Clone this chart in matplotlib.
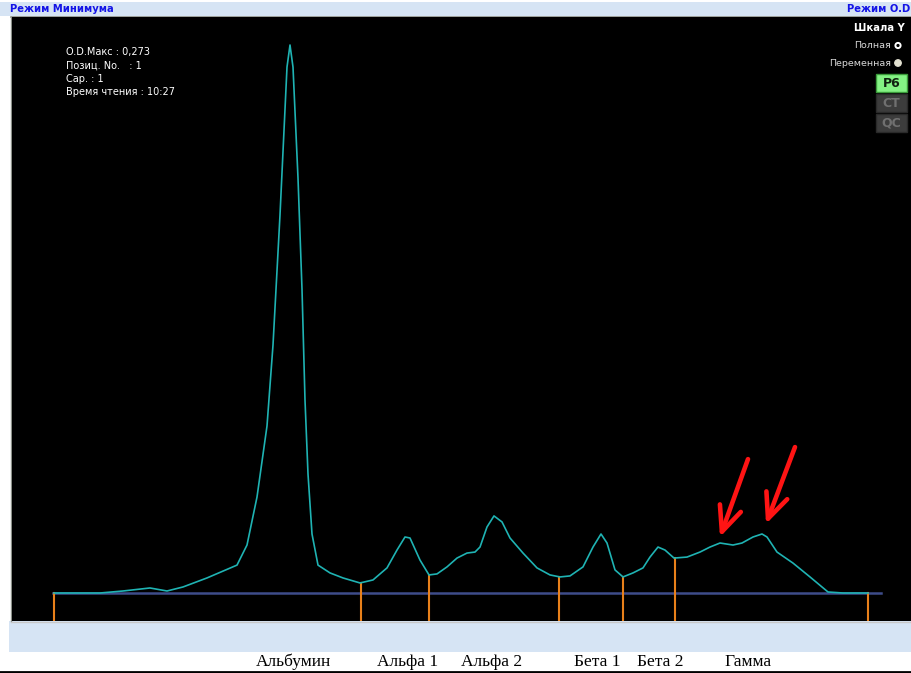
import numpy as np
import matplotlib
matplotlib.use('Agg')
import matplotlib.pyplot as plt
from matplotlib.patches import Rectangle, Circle

# densitogram scan: position along the strip and optical density
scan_pos = [54, 80, 100, 123, 150, 167, 183, 207, 237, 247, 257, 267, 273, 280, 287, 290,
            293, 298, 302, 305, 308, 312, 318, 330, 343, 360, 373, 387, 397, 405, 410, 420,
            429, 437, 447, 457, 467, 475, 480, 487, 494, 502, 510, 523, 537, 550, 560, 570,
            583, 593, 601, 607, 615, 623, 633, 643, 650, 658, 665, 674, 687, 700, 710, 720,
            733, 742, 753, 762, 767, 777, 793, 810, 828, 843, 868]
od_values = [0.0, 0.0, 0.0, 0.001, 0.0025, 0.001, 0.003, 0.0075, 0.0139, 0.0239, 0.0478,
             0.0832, 0.1235, 0.1883, 0.2620, 0.2730, 0.2620, 0.2067, 0.1514, 0.0961, 0.0593,
             0.0294, 0.0139, 0.0100, 0.0075, 0.0050, 0.0065, 0.0125, 0.0214, 0.0279, 0.0274,
             0.0164, 0.0090, 0.0095, 0.0130, 0.0174, 0.0199, 0.0204, 0.0229, 0.0329, 0.0384,
             0.0354, 0.0274, 0.0199, 0.0125, 0.0090, 0.0080, 0.0085, 0.0130, 0.0229, 0.0294,
             0.0249, 0.0115, 0.0080, 0.0100, 0.0125, 0.0179, 0.0229, 0.0214, 0.0174, 0.0179,
             0.0204, 0.0229, 0.0249, 0.0239, 0.0249, 0.0279, 0.0294, 0.0279, 0.0204, 0.0149,
             0.0080, 0.0005, 0.0, 0.0]

# fraction boundaries (scan position)
boundaries = [54, 361, 429, 559, 623, 675, 868]
fractions = ['Альбумин', 'Альфа 1', 'Альфа 2', 'Бета 1', 'Бета 2', 'Гамма']
fraction_label_pos = [293, 408, 492, 597, 660, 748]

# red arrows pointing at the two gamma humps (tip, tail)
arrow_tips = [(720, 0.0279), (766, 0.0344)]
arrow_tails = [(748, 0.0667), (795, 0.0727)]

info_lines = ['O.D.Макс : 0,273', 'Позиц. No.   : 1', 'Cap. : 1', 'Время чтения : 10:27']

W, H = 911, 673
fig = plt.figure(figsize=(W / 100, H / 100), dpi=100)
fig.patch.set_facecolor('white')

# background / window decoration in pixel coords
bg = fig.add_axes([0, 0, 1, 1])
bg.set_xlim(0, W)
bg.set_ylim(H, 0)
bg.axis('off')
bg.add_patch(Rectangle((0, 2), W, 14, facecolor='#D6E4F4', edgecolor='none'))
bg.add_patch(Rectangle((9, 621), W - 9, 31, facecolor='#D6E4F4', edgecolor='none'))
bg.plot([11, W], [16.5, 16.5], color='#8A8F88', lw=1.2)
bg.plot([11, 11], [16.5, 621], color='#8A8F88', lw=1.0)
bg.plot([11, W], [621.5, 621.5], color='#C8C8C8', lw=1.0)
bg.plot([0, W], [671.5, 671.5], color='black', lw=2)
bg.text(10, 9, 'Режим Минимума', color='#1414E6', fontsize=7.2, fontweight='bold',
        ha='left', va='center')
bg.text(910, 9, 'Режим O.D', color='#1414E6', fontsize=7.2, fontweight='bold',
        ha='right', va='center')

for lab, xp in zip(fractions, fraction_label_pos):
    bg.text(xp, 662, lab, family='Liberation Serif', fontsize=12.5, color='black',
            ha='center', va='center')

# main densitogram area
kpx = 0.273 / 548
ax = fig.add_axes([12 / W, (H - 621) / H, (W - 12) / W, 604 / H])
ax.set_facecolor('black')
ax.set_xlim(12, W)
ax.set_ylim(-28 * kpx, 576 * kpx)
for s in ax.spines.values():
    s.set_visible(False)
ax.set_xticks([])
ax.set_yticks([])

ax.plot([53, 881], [0, 0], color='#3E4C8A', lw=1.8, zorder=2)
ymin = ax.get_ylim()[0]
for b in boundaries:
    top = np.interp(b, scan_pos, od_values)
    ax.plot([b, b], [ymin, top], color='#E8801A', lw=1.5, zorder=3)
ax.plot(scan_pos, od_values, color='#1FB3B3', lw=1.2, zorder=4)

for tip, tail in zip(arrow_tips, arrow_tails):
    ax.annotate('', xy=tip, xytext=tail,
                arrowprops=dict(arrowstyle='->,head_length=1.8,head_width=0.8',
                                color='#FF1414', lw=3.3, shrinkA=0, shrinkB=0))

# overlay for texts drawn on top of the black area
ov = fig.add_axes([0, 0, 1, 1])
ov.set_xlim(0, W)
ov.set_ylim(H, 0)
ov.axis('off')
ov.patch.set_alpha(0)

for i, line in enumerate(info_lines):
    ov.text(66, 52 + i * 13.3, line, color='white', fontsize=7, ha='left', va='center')

# right side panel
ov.text(905, 28, 'Шкала Y', color='white', fontsize=7.2, fontweight='bold',
        ha='right', va='center')
ov.text(891, 45, 'Полная', color='#D8D8D8', fontsize=6.8, ha='right', va='center')
ov.add_patch(Circle((898, 45.5), 2.6, facecolor='black', edgecolor='white', lw=1.4))
ov.text(891, 63, 'Переменная', color='#D8D8D8', fontsize=6.8, ha='right', va='center')
ov.add_patch(Circle((898, 63), 3.2, facecolor='#E4E2D2', edgecolor='#E4E2D2'))

buttons = [('P6', 74, '#84F284', '#3A9A3A', '#102010'),
           ('CT', 94, '#3C3C3C', '#2A2A2A', '#707070'),
           ('QC', 114, '#3C3C3C', '#2A2A2A', '#707070')]
for txt, y0, fc, ec, tc in buttons:
    ov.add_patch(Rectangle((876, y0), 31, 18, facecolor=fc, edgecolor=ec, lw=1))
    ov.text(891.5, y0 + 9.5, txt, color=tc, fontsize=9, fontweight='bold',
            ha='center', va='center')

fig.savefig('out.png', dpi=100, facecolor=fig.get_facecolor())
